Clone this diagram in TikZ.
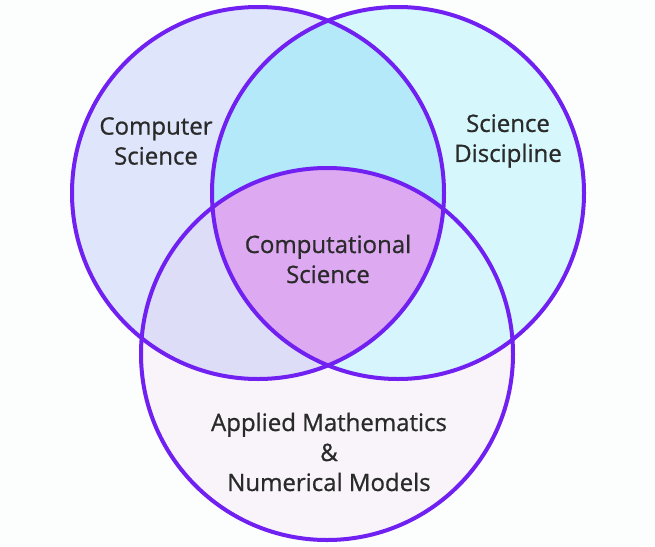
\documentclass[tikz,border=0pt]{standalone}
\usepackage{fontspec}
\setmainfont{Open Sans}
\newfontfamily\lblfont{Open Sans}[RawFeature={embolden=0.8}]
\definecolor{bgc}{HTML}{FCFDFD}
\definecolor{edge}{HTML}{7020F0}
\definecolor{lfill}{HTML}{DFE5FA}
\definecolor{rfill}{HTML}{D6F8FC}
\definecolor{bfill}{HTML}{F8F4FA}
\definecolor{lrfill}{HTML}{B3E9F8}
\definecolor{lbfill}{HTML}{DDDDF8}
\definecolor{rbfill}{HTML}{D6F5FC}
\definecolor{cfill}{HTML}{DDAAF2}
\definecolor{txt}{HTML}{2A2A2A}
\begin{document}
\begin{tikzpicture}[x=1pt,y=-1pt,
  lbl/.style={align=center,text=txt,font=\lblfont\fontsize{24}{30}\selectfont},
  ring/.style={draw=edge,line width=4pt}]
\useasboundingbox (0,0) rectangle (655,546);
\fill[bgc] (0,0) rectangle (655,546);
\coordinate (cl) at (258,193);
\coordinate (cr) at (398,193);
\coordinate (cb) at (327,354);
\def\rr{186}
\fill[lfill] (cl) circle[radius=\rr];
\fill[rfill] (cr) circle[radius=\rr];
\fill[bfill] (cb) circle[radius=\rr];
\begin{scope}
  \clip (cl) circle[radius=\rr];
  \fill[lrfill] (cr) circle[radius=\rr];
  \fill[lbfill] (cb) circle[radius=\rr];
\end{scope}
\begin{scope}
  \clip (cr) circle[radius=\rr];
  \fill[rbfill] (cb) circle[radius=\rr];
  \clip (cl) circle[radius=\rr];
  \fill[cfill] (cb) circle[radius=\rr];
\end{scope}
\draw[ring] (cl) circle[radius=\rr];
\draw[ring] (cr) circle[radius=\rr];
\draw[ring] (cb) circle[radius=\rr];
\node[lbl] (cs) at (156,141) {Computer\\Science};
\node[lbl] (sd) at (508,141) {Science\\Discipline};
\node[lbl] (cp) at (328,259) {Computational\\Science};
\node[lbl] (am) at (329,452) {Applied Mathematics\\\&\\Numerical Models};
\end{tikzpicture}
\end{document}
